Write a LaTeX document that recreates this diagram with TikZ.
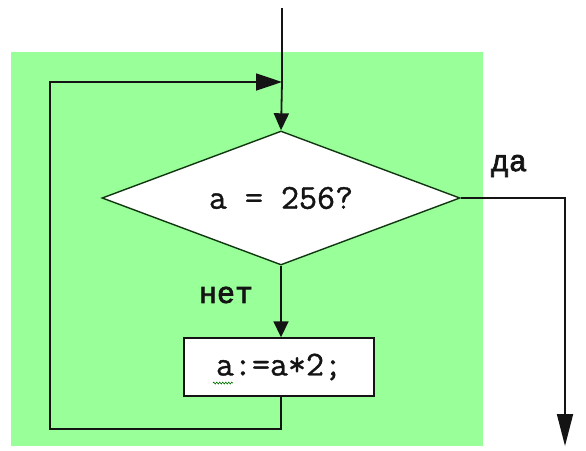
\documentclass[tikz,border=0pt]{standalone}
\usepackage{fontspec}
\setmonofont{Latin Modern Mono}[FakeBold=1]
\newfontfamily\answerfont{Liberation Mono}[FakeBold=2.5]
\usetikzlibrary{shapes.geometric,arrows.meta,decorations.pathmorphing}
\definecolor{loopgreen}{RGB}{153,255,153}
\definecolor{ink}{RGB}{20,20,20}
\begin{document}
\begin{tikzpicture}[x=1pt,y=-1pt,
  flow/.style={line width=1.8pt, draw=ink},
  code/.style={font=\ttfamily\fontsize{35}{37}\selectfont, text=ink},
  answer/.style={font=\answerfont\fontsize{30}{32}\selectfont, text=ink},
  testbox/.style={diamond, shape aspect=2.67, draw=ink!85!green, fill=white, line width=1.4pt,
    minimum width=358pt, minimum height=134pt, inner sep=0pt, code},
  actionbox/.style={rectangle, draw=ink, fill=white, line width=1.4pt,
    minimum width=190pt, minimum height=58pt, inner sep=0pt, code}]
\useasboundingbox (0,0) rectangle (586,450);
% loop body background
\fill[loopgreen] (11,52) rectangle (483,446);

\node[testbox] (test) at (281,198) {a = 256?\hspace{10pt}};
\node[actionbox] (body) at (279,367) {a:=a*2;};

\coordinate (start) at (282,8);
\coordinate (join) at (282,82);
\coordinate (loopbl) at (50,429);
\coordinate (exit) at (565,446);

\node[answer] (yes) at (509,166) {да};
\node[answer] (no) at (226,295) {нет};

% entry and condition check
\draw[flow] (start) -- (join);
\draw[flow,-{Triangle[length=17pt,width=15pt]}] (join) -- (test.north);
\draw[flow,-{Triangle[length=16pt,width=15pt]}] (test.south) -- (test.south |- body.north);
% back edge of the loop
\draw[flow,-{Triangle[length=26pt,width=17pt]}]
  (test.south |- body.south) |- (loopbl) |- (join);
% exit branch
\draw[flow,-{Triangle[length=32pt,width=16pt]}] (test.east) -| (exit);

% wavy underline under the variable
\draw[green!45!black, line width=0.6pt, decorate,
  decoration={zigzag, segment length=3pt, amplitude=1pt}] (213,383) -- (233,383);
\end{tikzpicture}
\end{document}
